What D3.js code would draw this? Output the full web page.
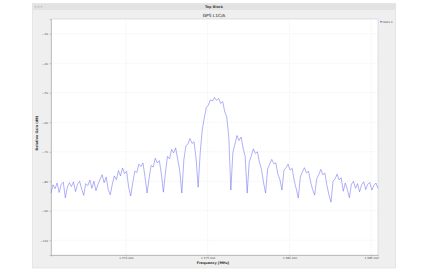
<!DOCTYPE html>
<html>
<head>
<meta charset="utf-8">
<script src="https://cdn.jsdelivr.net/npm/d3@7"></script>
<style>
  body { margin: 0; background: #fff; }
  svg { display: block; font-family: "DejaVu Sans", sans-serif; }
</style>
</head>
<body>
<div id="chart"></div>
<script>
// FFT bin layout (MHz)
var centerMHz = 1575.42;
var spanMHz = 20;
var binStep = 0.125;

// relative gain per bin (dB), 1 MHz per row
var gainDb = [
  -84.0, -81.2, -82.5, -80.6, -83.8, -81.0, -80.3, -85.6,
  -82.0, -80.5, -81.8, -80.2, -83.5, -81.0, -80.0, -82.6,
  -84.8, -80.8, -81.5, -79.6, -82.4, -80.0, -83.2, -81.0,
  -79.4, -77.8, -80.5, -78.6, -82.8, -84.6, -81.0, -78.2,
  -79.5, -76.4, -78.2, -75.5, -77.4, -76.6, -82.0, -85.0,
  -80.5, -76.6, -77.0, -74.2, -75.0, -73.8, -78.5, -84.0,
  -79.0, -74.6, -75.2, -72.2, -73.8, -73.0, -77.5, -83.7,
  -77.0, -71.6, -72.4, -69.2, -70.4, -68.7, -72.6, -76.5,
  -84.0, -72.8, -68.0, -67.4, -65.5, -67.2, -66.6, -72.4,
  -82.0, -70.4, -62.6, -58.6, -55.0, -54.2, -52.4, -52.8,
  -51.6, -52.6, -51.9, -53.6, -53.0, -56.4, -58.2, -65.0,
  -83.0, -70.2, -67.4, -64.5, -66.2, -65.0, -68.8, -71.5,
  -84.0, -73.4, -71.4, -69.0, -70.6, -70.0, -73.6, -76.0,
  -80.5, -84.0, -75.8, -74.2, -72.6, -74.0, -73.8, -77.6,
  -79.4, -83.0, -76.2, -75.4, -74.2, -76.2, -75.6, -79.8,
  -82.6, -85.7, -78.6, -76.8, -75.4, -77.2, -76.6, -80.2,
  -82.8, -84.7, -79.2, -77.8, -76.0, -77.8, -77.2, -81.4,
  -84.6, -87.1, -80.0, -79.2, -77.6, -79.6, -78.8, -83.4,
  -80.6, -82.8, -85.6, -81.0, -80.0, -82.4, -80.8, -83.6,
  -81.2, -80.2, -82.8, -81.0, -80.4, -83.0, -81.4, -80.6,
  -82.4
];

var xTicks = [1570, 1575, 1580, 1585];
var yTicks = [-30, -40, -50, -60, -70, -80, -90, -100];
var yDomain = [-105, -25];

var W = 428, H = 272;
var plot = { left: 51, right: 378, top: 19, bottom: 255 };

var svg = d3.select("#chart").append("svg")
    .attr("width", W)
    .attr("height", H);

// window frame
svg.append("rect")
    .attr("x", 32.5).attr("y", 3.5)
    .attr("width", 363).attr("height", 264.5)
    .attr("fill", "#efefef")
    .attr("stroke", "#d6d6d6")
    .attr("stroke-width", 0.5);
svg.append("rect")
    .attr("x", 32.5).attr("y", 3.5)
    .attr("width", 363).attr("height", 6.5)
    .attr("fill", "#e3e3e3");
[35.5, 38.5, 41.5].forEach(function(cx) {
    svg.append("circle")
        .attr("cx", cx).attr("cy", 6.7).attr("r", 1)
        .attr("fill", "#c4c4c4");
});
svg.append("text")
    .attr("x", 214).attr("y", 8.2)
    .attr("text-anchor", "middle")
    .attr("font-size", "3.4px")
    .attr("font-weight", "bold")
    .attr("fill", "#444")
    .text("Top Block");

// chart title
svg.append("text")
    .attr("x", 214).attr("y", 16.5)
    .attr("text-anchor", "middle")
    .attr("font-size", "4.3px")
    .attr("fill", "#222")
    .text("GPS L1C/A");

var x = d3.scaleLinear()
    .domain([centerMHz - spanMHz / 2, centerMHz + spanMHz / 2])
    .range([plot.left, plot.right]);
var y = d3.scaleLinear()
    .domain(yDomain)
    .range([plot.bottom, plot.top]);

// canvas
svg.append("rect")
    .attr("x", plot.left).attr("y", plot.top)
    .attr("width", plot.right - plot.left)
    .attr("height", plot.bottom - plot.top)
    .attr("fill", "#fff")
    .attr("stroke", "#c8c8c8")
    .attr("stroke-width", 0.5);

// grid
svg.append("g").selectAll("line").data(yTicks).enter().append("line")
    .attr("x1", plot.left).attr("x2", plot.right)
    .attr("y1", function(d) { return y(d); })
    .attr("y2", function(d) { return y(d); })
    .attr("stroke", "#e4e4e4")
    .attr("stroke-width", 0.5)
    .attr("stroke-dasharray", "1,1");
svg.append("g").selectAll("line").data(xTicks).enter().append("line")
    .attr("x1", function(d) { return x(d); })
    .attr("x2", function(d) { return x(d); })
    .attr("y1", plot.top).attr("y2", plot.bottom)
    .attr("stroke", "#e4e4e4")
    .attr("stroke-width", 0.5)
    .attr("stroke-dasharray", "1,1");

// axes
var fmt = d3.format(",.3f");
var yAxis = svg.append("g")
    .attr("transform", "translate(" + plot.left + ",0)")
    .call(d3.axisLeft(y).tickValues(yTicks).tickSize(1.5).tickPadding(1.5));
var xAxis = svg.append("g")
    .attr("transform", "translate(0," + plot.bottom + ")")
    .call(d3.axisBottom(x).tickValues(xTicks).tickSize(1.5).tickPadding(1)
        .tickFormat(function(d) { return fmt(d); }));
[xAxis, yAxis].forEach(function(a) {
    a.select(".domain").attr("stroke", "#999").attr("stroke-width", 0.5);
    a.selectAll(".tick line").attr("stroke", "#999").attr("stroke-width", 0.5);
    a.selectAll(".tick text")
        .attr("font-size", "2.8px")
        .attr("font-family", "DejaVu Sans, sans-serif")
        .attr("fill", "#555");
});

svg.append("text")
    .attr("x", 213).attr("y", 264)
    .attr("text-anchor", "middle")
    .attr("font-size", "3.4px")
    .attr("font-weight", "bold")
    .attr("fill", "#333")
    .text("Frequency [MHz]");

svg.append("text")
    .attr("transform", "translate(38,133) rotate(-90)")
    .attr("text-anchor", "middle")
    .attr("font-size", "3.4px")
    .attr("font-weight", "bold")
    .attr("fill", "#333")
    .text("Relative Gain (dB)");

// trace
var line = d3.line()
    .x(function(d, i) { return x(centerMHz - spanMHz / 2 + i * binStep); })
    .y(function(d) { return y(d); });

svg.append("path")
    .datum(gainDb)
    .attr("d", line)
    .attr("fill", "none")
    .attr("stroke", "#6464f2")
    .attr("stroke-width", 0.6)
    .attr("stroke-opacity", 0.85);

// legend
svg.append("line")
    .attr("x1", 380).attr("x2", 382.5)
    .attr("y1", 21.8).attr("y2", 21.8)
    .attr("stroke", "#6464f2")
    .attr("stroke-width", 1);
svg.append("text")
    .attr("x", 383.2).attr("y", 22.8)
    .attr("font-size", "2.8px")
    .attr("fill", "#555")
    .text("Data 0");
</script>
</body>
</html>
